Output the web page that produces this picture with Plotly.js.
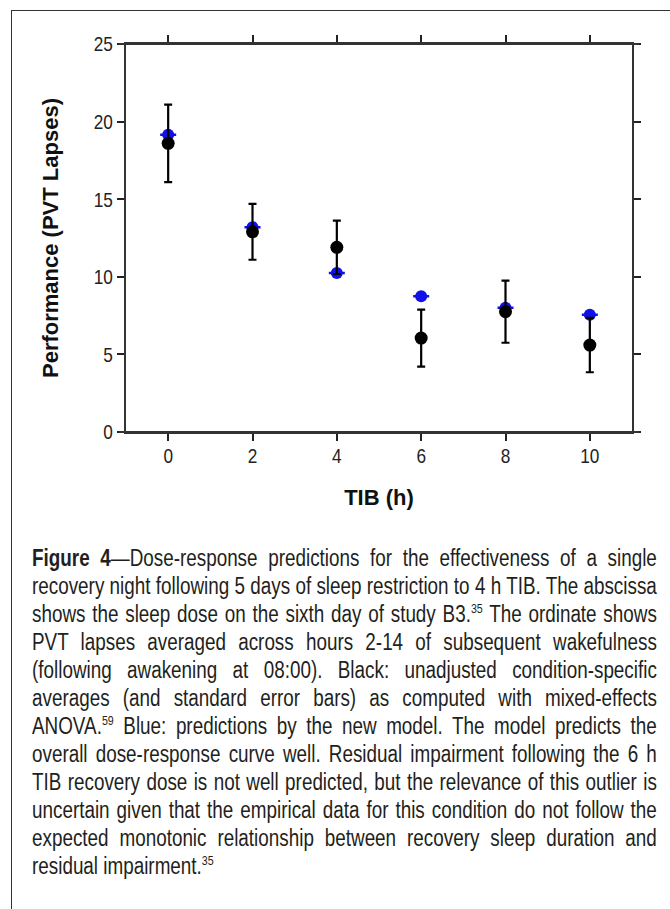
<!DOCTYPE html>
<html>
<head>
<meta charset="utf-8">
<script src="https://cdn.plot.ly/plotly-3.0.1.min.js"></script>
<style>
  html, body { margin: 0; padding: 0; background: #fff; }
  body { width: 670px; height: 909px; position: relative; overflow: hidden; }
  #frame { position: absolute; left: 11px; top: 10px; width: 700px; height: 950px; border: 1.5px solid #333; box-sizing: border-box; }
  #chart { position: absolute; left: 0; top: 0; width: 670px; height: 520px; }
  #caption { position: absolute; left: 32px; top: 544px; width: 762px; color: #231f20;
    transform: scaleX(0.82); transform-origin: 0 0;
    font-family: "Liberation Sans", Arial, sans-serif; font-size: 23px; }
  #caption div { height: 28px; line-height: 28px; text-align: justify; text-align-last: justify; white-space: nowrap; }
  #caption div.last { text-align-last: left; }
  #caption sup { font-size: 13px; line-height: 0; vertical-align: 9px; }
</style>
</head>
<body>
<div id="frame"></div>
<div id="chart"></div>
<div id="caption">
  <div><b>Figure 4</b>—Dose-response predictions for the effectiveness of a single</div>
  <div>recovery night following 5 days of sleep restriction to 4 h TIB. The abscissa</div>
  <div>shows the sleep dose on the sixth day of study B3.<sup>35</sup> The ordinate shows</div>
  <div>PVT lapses averaged across hours 2-14 of subsequent wakefulness</div>
  <div>(following awakening at 08:00). Black: unadjusted condition-specific</div>
  <div>averages (and standard error bars) as computed with mixed-effects</div>
  <div>ANOVA.<sup>59</sup> Blue: predictions by the new model. The model predicts the</div>
  <div>overall dose-response curve well. Residual impairment following the 6 h</div>
  <div>TIB recovery dose is not well predicted, but the relevance of this outlier is</div>
  <div>uncertain given that the empirical data for this condition do not follow the</div>
  <div>expected monotonic relationship between recovery sleep duration and</div>
  <div class="last">residual impairment.<sup>35</sup></div>
</div>
<script>
// TIB recovery dose (h)
const tib = [0, 2, 4, 6, 8, 10];
// Observed mean PVT lapses (black) and standard errors
const observed = [18.6, 12.9, 11.9, 6.05, 7.75, 5.6];
const observedSE = [2.5, 1.8, 1.72, 1.84, 2.0, 1.75];
// Model predictions (blue)
const predicted = [19.15, 13.2, 10.25, 8.75, 8.0, 7.55];
const predictedBar = [0, 0, 0, 0, 0, 0];
const xTicks = [0, 2, 4, 6, 8, 10];
const yTicks = [0, 5, 10, 15, 20, 25];

const tickFamily = '"Liberation Sans", Arial, sans-serif';
const boldFont = '"Liberation Sans", Arial, sans-serif';

const traces = [
  {
    x: tib, y: predicted, type: 'scatter', mode: 'markers',
    marker: { color: '#1010e8', size: 12 },
    error_y: { type: 'data', array: predictedBar, visible: true, color: '#1010e8', thickness: 2.5, width: 8 },
    showlegend: false, hoverinfo: 'x+y'
  },
  {
    x: tib, y: observed, type: 'scatter', mode: 'markers',
    marker: { color: '#000', size: 13 },
    error_y: { type: 'data', array: observedSE, visible: true, color: '#000', thickness: 2.2, width: 4 },
    showlegend: false, hoverinfo: 'x+y'
  }
];

const ext = 7 / 506;
const layout = {
  width: 670, height: 520,
  margin: { l: 126, r: 38, t: 44, b: 88 },
  paper_bgcolor: 'rgba(0,0,0,0)', plot_bgcolor: '#fff',
  xaxis: {
    range: [-1, 11], tickvals: xTicks, ticktext: xTicks.map(String),
    showgrid: false, zeroline: false, showline: true, linecolor: '#333', linewidth: 2,
    mirror: 'ticks', ticks: 'outside', ticklen: 7, tickwidth: 2, tickcolor: '#222',
    ticklabelstandoff: -3,
    tickfont: { family: tickFamily, size: 21, color: '#222' },
    title: { text: '<b>TIB (h)</b>', font: { family: boldFont, size: 22, color: '#111' }, standoff: 23 }
  },
  yaxis: {
    range: [0, 25], tickvals: yTicks, ticktext: yTicks.map(String),
    showgrid: false, zeroline: false, showline: true, linecolor: '#333', linewidth: 2,
    mirror: 'ticks', ticks: 'outside', ticklen: 7, tickwidth: 2, tickcolor: '#222',
    tickfont: { family: tickFamily, size: 21, color: '#222' },
    title: { text: '<b>Performance (PVT Lapses)</b>', font: { family: boldFont, size: 22, color: '#111' }, standoff: 25 }
  },
  shapes: [
    { type: 'line', xref: 'paper', yref: 'paper', x0: -ext, x1: 1 + ext, y0: 0, y1: 0, line: { color: '#333', width: 2 } },
    { type: 'line', xref: 'paper', yref: 'paper', x0: -ext, x1: 1 + ext, y0: 1, y1: 1, line: { color: '#333', width: 2 } }
  ]
};

Plotly.newPlot('chart', traces, layout, { displayModeBar: false, staticPlot: true }).then(function (gd) {
  // condense tick labels horizontally (Arial Narrow look), anchored at each label's x
  gd.querySelectorAll('.xtick text, .ytick text').forEach(function (t) {
    const x = parseFloat(t.getAttribute('x')) || 0;
    const tr = t.getAttribute('transform') || '';
    t.setAttribute('transform', tr + ' translate(' + x + ',0) scale(0.82,1) translate(' + (-x) + ',0)');
  });
});
</script>
</body>
</html>
